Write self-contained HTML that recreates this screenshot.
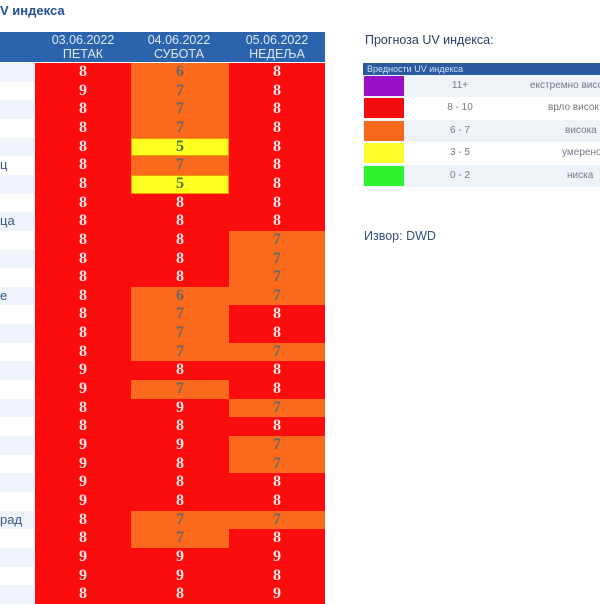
<!DOCTYPE html>
<html><head><meta charset="utf-8"><style>
body{margin:0;width:600px;height:600px;overflow:hidden;background:#fff;position:relative;font-family:"Liberation Sans",sans-serif}
.t{position:absolute;left:0;top:3px;font-weight:bold;color:#1f4f96;font-size:13px}
.hdr{position:absolute;left:0;top:32px;width:325px;height:30px;background:#2c63ad}
.h{position:absolute;top:0;width:96px;text-align:center;color:#dfe8f5;font-size:12.5px;line-height:14px;padding-top:1px}
.c{position:absolute;height:18.7px;text-align:center;font:bold 16px/18.7px "Liberation Serif",serif}
.r{background:#fb0d0d;color:#ffe4e4}.o{background:#fb6a1c;color:#666}.y{background:#ffff20;color:#3d7a1a;outline:1px solid #e8a000;outline-offset:-1px}
.lc{position:absolute;left:0;width:35px;height:18.7px;font-size:13px;color:#3a5a80;line-height:18.7px}
.lg{position:absolute;left:363px;width:237px;overflow:hidden}
</style></head><body>
<div class="t">V индекса</div>
<div class="hdr">
<div class="h" style="left:35px">03.06.2022<br>ПЕТАК</div>
<div class="h" style="left:131px">04.06.2022<br>СУБОТА</div>
<div class="h" style="left:229px">05.06.2022<br>НЕДЕЉА</div>
</div>
<div id="rows"></div>
<div style="position:absolute;left:365px;top:33px;font-size:12.5px;color:#2a3e66">Прогноза UV индекса:</div>
<div class="lg" style="top:63px;height:12px;background:#2c5aa0;color:#cfe0f5;font-size:9px;line-height:12px;padding-left:4px">Вредности UV индекса</div>
<div id="leg"></div>
<div style="position:absolute;left:364px;top:229px;font-size:12.5px;color:#34507a">Извор: DWD</div>
<script>
var d=[[8,6,8],[9,7,8],[8,7,8],[8,7,8],[8,5,8],[8,7,8],[8,5,8],[8,8,8],[8,8,8],[8,8,7],[8,8,7],[8,8,7],[8,6,7],[8,7,8],[8,7,8],[8,7,7],[9,8,8],[9,7,8],[8,9,7],[8,8,8],[9,9,7],[9,8,7],[9,8,8],[9,8,8],[8,7,7],[8,7,8],[9,9,9],[9,9,8],[8,8,9]];
var lab={5:"ц",8:"ца",12:"е",24:"рад"};
var xs=[[35,96],[131,98],[229,96]],h="";
d.forEach(function(r,i){var top=63+i*18.65;
h+='<div class="lc" style="top:'+top+'px;background:'+(i%2?'#fff':'#eef4fa')+'">'+(lab[i]||'')+'</div>';
r.forEach(function(v,j){var cl=v>=8?'r':(v>=6?'o':'y');
h+='<div class="c '+cl+'" style="top:'+top+'px;left:'+xs[j][0]+'px;width:'+xs[j][1]+'px">'+v+'</div>';});});
document.getElementById('rows').innerHTML=h;
var L=[['#9a10c8','11+','екстремно висок',167],['#f40d0d','8 - 10','врло висок',185],['#f5691f','6 - 7','висока',202],['#fdfd2a','3 - 5','умерено',199],['#2ef22e','0 - 2','ниска',204]],g="";
L.forEach(function(l,i){var top=75+i*22.4;
g+='<div class="lg" style="top:'+top+'px;height:22px;background:'+(i%2?'#fff':'#eef3f8')+';font-size:10px;color:#778;line-height:22px"><div style="position:absolute;left:1px;top:1px;width:40px;height:20px;background:'+l[0]+'"></div><div style="position:absolute;left:72px;width:50px;text-align:center">'+l[1]+'</div><div style="position:absolute;left:'+l[3]+'px;white-space:nowrap">'+l[2]+'</div></div>';});
document.getElementById('leg').innerHTML=g;
</script>
</body></html>
